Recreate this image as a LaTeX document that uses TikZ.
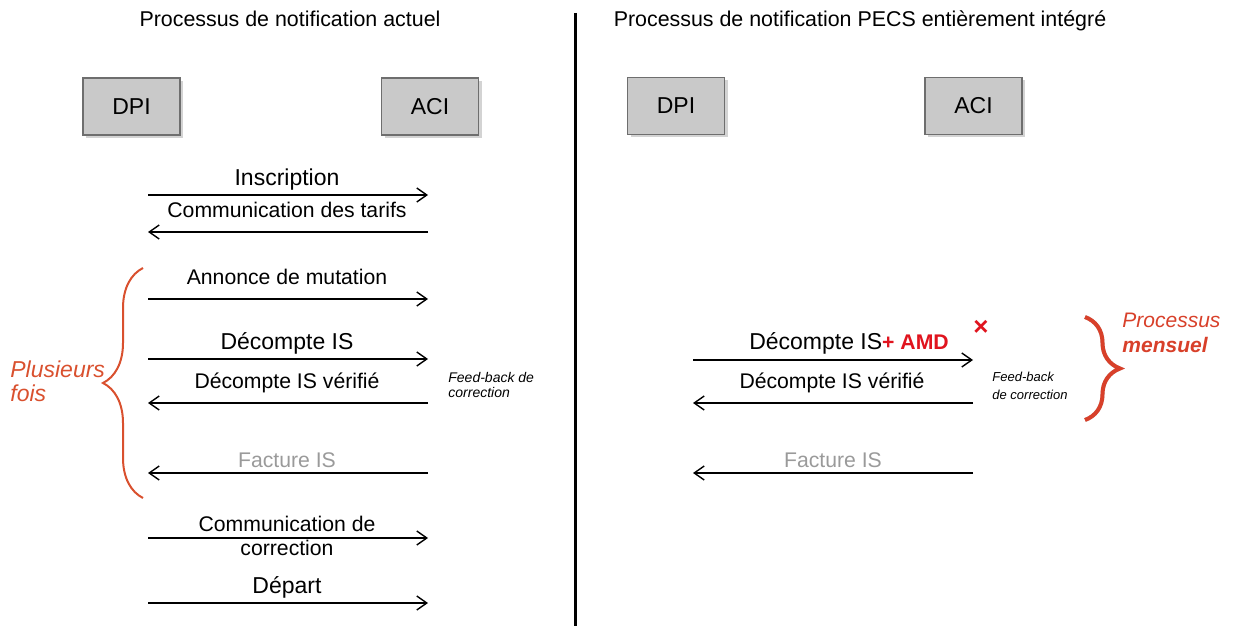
\documentclass[tikz,border=0pt]{standalone}
\usepackage{fontspec}
\setmainfont{Liberation Sans}
\usetikzlibrary{arrows.meta,shadows,decorations.pathreplacing}

\definecolor{actorfill}{HTML}{C9C9C9}
\definecolor{actorline}{HTML}{6E6E6E}
\definecolor{bracered}{HTML}{D9502E}
\definecolor{procred}{HTML}{D8402A}
\definecolor{amdred}{HTML}{E0141E}
\definecolor{softgray}{HTML}{9A9A9A}

\tikzset{
  actor/.style={draw=actorline, fill=actorfill, line width=0.8pt,
    minimum width=48.5pt, minimum height=28.5pt,
    font=\fontsize{11.5}{13}\selectfont,
    drop shadow={shadow xshift=1.5pt, shadow yshift=-1.5pt, opacity=0.35}},
  msg/.style={-{Straight Barb[length=5pt,width=7pt]}, line width=0.7pt},
  msgtext/.style={anchor=base, inner sep=0pt, font=\fontsize{10.6}{12}\selectfont},
  msgbig/.style={msgtext, font=\fontsize{11.5}{13}\selectfont},
  msggray/.style={msgtext, text=softgray},
  heading/.style={anchor=base, inner sep=0pt, font=\fontsize{10.7}{12}\selectfont},
  note/.style={anchor=west, inner sep=0pt, align=left,
    font=\fontsize{7}{7.5}\selectfont\itshape},
  bracket/.style={decorate, decoration={brace, amplitude=#1}},
}

\begin{document}
\begin{tikzpicture}[x=0.5pt,y=-0.5pt]
\useasboundingbox (0,0) rectangle (1233,626);

% separator
\coordinate (septop) at (575,13);
\coordinate (sepbot) at (575,626);
\draw[line width=1.5pt] (septop) -- (sepbot);

% current process
\node[heading] (titleleft) at (290,27) {Processus de notification actuel};
\node[actor] (dpileft) at (131.5,106.5) {DPI};
\node[actor] (acileft) at (430,106.5) {ACI};

\foreach \n/\y in {1/195,2/232,3/299,4/359,5/403,6/473,7/538,8/603}{
  \coordinate (dl\n) at (148,\y);
  \coordinate (al\n) at (428,\y);
}
\draw[msg] (dl1) -- (al1);
\draw[msg] (al2) -- (dl2);
\draw[msg] (dl3) -- (al3);
\draw[msg] (dl4) -- (al4);
\draw[msg] (al5) -- (dl5);
\draw[msg] (al6) -- (dl6);
\draw[msg] (dl7) -- (al7);
\draw[msg] (dl8) -- (al8);

\node[msgbig] (inscription) at (287,185) {Inscription};
\node[msgtext] (tarifs) at (287,218) {Communication des tarifs};
\node[msgtext] (mutation) at (287,285) {Annonce de mutation};
\node[msgbig] (decompte) at (287,349) {Décompte IS};
\node[msgtext] (verifie) at (287,388) {Décompte IS vérifié};
\node[msggray] (facture) at (287,467) {Facture IS};
\node[msgtext, anchor=center, align=center] (correction) at (287,536) {Communication de\\correction};
\node[msgbig] (depart) at (287,593) {Départ};

\node[note] (feedleft) at (448,384.5) {Feed-back de\\correction};

\coordinate (bl1) at (143,498);
\coordinate (bl2) at (143,268);
\draw[bracket=20pt, draw=bracered, line width=1pt] (bl1) -- (bl2);
\node[anchor=west, inner sep=0pt, align=left, text=bracered,
  font=\fontsize{11.5}{12}\selectfont\itshape] (plusieurs) at (10,381.5) {Plusieurs\\fois};

% integrated PECS process
\node[heading] (titleright) at (860,27) {Processus de notification PECS entièrement intégré};
\node[actor] (dpiright) at (676,106) {DPI};
\node[actor] (aciright) at (973.5,106) {ACI};

\foreach \n/\y in {1/360,2/403,3/473}{
  \coordinate (dr\n) at (693,\y);
  \coordinate (ar\n) at (973,\y);
}
\draw[msg] (dr1) -- (ar1);
\draw[msg] (ar2) -- (dr2);
\draw[msg] (ar3) -- (dr3);

\node[msgbig] (decompteamd) at (849,350) {Décompte IS{\color{amdred}\fontsize{10.6}{12}\selectfont\bfseries+ AMD}};
\node[text=amdred, inner sep=0pt, font=\fontsize{13}{13}\selectfont\bfseries] (cross) at (981,328) {×};
\node[msgtext] (verifieright) at (832,388) {Décompte IS vérifié};
\node[msggray] (factureright) at (833,467) {Facture IS};

\node[note, font=\fontsize{6.5}{9}\selectfont\itshape] (feedright) at (992,386) {Feed-back\\de correction};

\coordinate (br1) at (1085,317);
\coordinate (br2) at (1085,420);
\draw[bracket=17.5pt, draw=black, opacity=0.2, line width=2pt, xshift=1pt, yshift=-1pt] (br1) -- (br2);
\draw[bracket=17.5pt, draw=procred, line width=2pt] (br1) -- (br2);
\node[anchor=west, inner sep=0pt, align=left, text=procred,
  font=\fontsize{10.5}{12.5}\selectfont\itshape] (mensuel) at (1122,333) {Processus\\\textbf{mensuel}};
\end{tikzpicture}
\end{document}
